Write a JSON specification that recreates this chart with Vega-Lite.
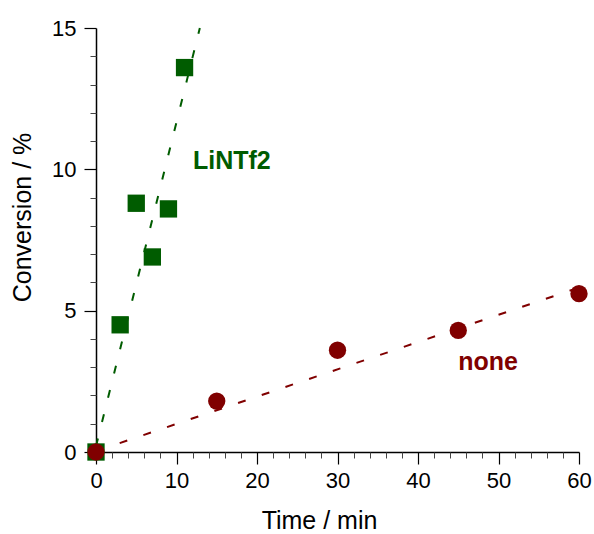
{
  "$schema": "https://vega.github.io/schema/vega-lite/v6.json",
  "width": 483,
  "height": 424,
  "autosize": {"type": "none"},
  "padding": {"left": 96, "top": 28, "right": 15, "bottom": 82},
  "background": "white",
  "config": {
    "view": {"stroke": null},
    "axis": {"labelFont": "Liberation Sans", "titleFont": "Liberation Sans", "labelColor": "black", "titleColor": "black", "domainColor": "black", "tickColor": "black", "grid": false}
  },
  "datasets": {
    "points": [
      {"series": "LiNTf2", "time": 0, "conv": 0},
      {"series": "LiNTf2", "time": 3, "conv": 4.5},
      {"series": "LiNTf2", "time": 5, "conv": 8.8},
      {"series": "LiNTf2", "time": 7, "conv": 6.9},
      {"series": "LiNTf2", "time": 9, "conv": 8.6},
      {"series": "LiNTf2", "time": 11, "conv": 13.6},
      {"series": "none", "time": 0, "conv": 0},
      {"series": "none", "time": 15, "conv": 1.8},
      {"series": "none", "time": 30, "conv": 3.6},
      {"series": "none", "time": 45, "conv": 4.3},
      {"series": "none", "time": 60, "conv": 5.6}
    ],
    "fits": [
      {"series": "LiNTf2", "time": 0, "conv": 0.2},
      {"series": "LiNTf2", "time": 12.9, "conv": 15.0},
      {"series": "none", "time": 0, "conv": 0.03},
      {"series": "none", "time": 59.5, "conv": 5.77}
    ],
    "labels": [
      {"series": "LiNTf2", "time": 12.05, "conv": 10.3, "text": "LiNTf2"},
      {"series": "none", "time": 45.0, "conv": 3.2, "text": "none"}
    ]
  },
  "layer": [
    {
      "data": {"name": "fits"},
      "mark": {"type": "line", "strokeDash": [8, 17], "strokeWidth": 2},
      "encoding": {
        "x": {"field": "time", "type": "quantitative", "scale": {"domain": [0, 60], "nice": false, "zero": false},
          "axis": {"orient": "bottom", "values": [0, 10, 20, 30, 40, 50, 60], "title": "Time / min", "labelFontSize": 22, "titleFontSize": 25, "titleFontWeight": "normal", "tickSize": 12, "labelPadding": 6, "titlePadding": 17, "titleX": 223, "domainWidth": 1.5, "tickWidth": 1.2, "labelFlush": false}},
        "y": {"field": "conv", "type": "quantitative", "scale": {"domain": [0, 15], "nice": false, "zero": false},
          "axis": {"orient": "left", "values": [0, 5, 10, 15], "title": "Conversion / %", "labelFontSize": 22, "titleFontSize": 25, "titleFontWeight": "normal", "tickSize": 12, "labelPadding": 8, "titlePadding": 16, "titleY": 189, "domainWidth": 1.5, "tickWidth": 1.2, "labelFlush": false}},
        "color": {"field": "series", "type": "nominal", "scale": {"domain": ["LiNTf2", "none"], "range": ["#005c00", "#800000"]}, "legend": null},
        "detail": {"field": "series"}
      }
    },
    {
      "data": {"name": "points"},
      "mark": {"type": "point", "filled": true, "opacity": 1, "size": 300, "clip": false},
      "encoding": {
        "x": {"field": "time", "type": "quantitative",
          "axis": {"orient": "bottom", "values": [2, 4, 6, 8, 12, 14, 16, 18, 22, 24, 26, 28, 32, 34, 36, 38, 42, 44, 46, 48, 52, 54, 56, 58], "labels": false, "domain": false, "title": null, "tickSize": 6, "tickWidth": 1, "tickColor": "#444"}},
        "y": {"field": "conv", "type": "quantitative",
          "axis": {"orient": "left", "values": [1, 2, 3, 4, 6, 7, 8, 9, 11, 12, 13, 14], "labels": false, "domain": false, "title": null, "tickSize": 6, "tickWidth": 1, "tickColor": "#444"}},
        "shape": {"field": "series", "type": "nominal", "scale": {"domain": ["LiNTf2", "none"], "range": ["square", "circle"]}, "legend": null},
        "color": {"field": "series", "type": "nominal", "legend": null}
      }
    },
    {
      "data": {"name": "labels"},
      "mark": {"type": "text", "align": "left", "baseline": "middle", "font": "Liberation Sans", "fontWeight": "bold", "fontSize": 25},
      "encoding": {
        "x": {"field": "time", "type": "quantitative", "axis": null},
        "y": {"field": "conv", "type": "quantitative", "axis": null},
        "text": {"field": "text"},
        "color": {"field": "series", "type": "nominal", "legend": null}
      }
    }
  ],
  "resolve": {"axis": {"x": "independent", "y": "independent"}}
}
